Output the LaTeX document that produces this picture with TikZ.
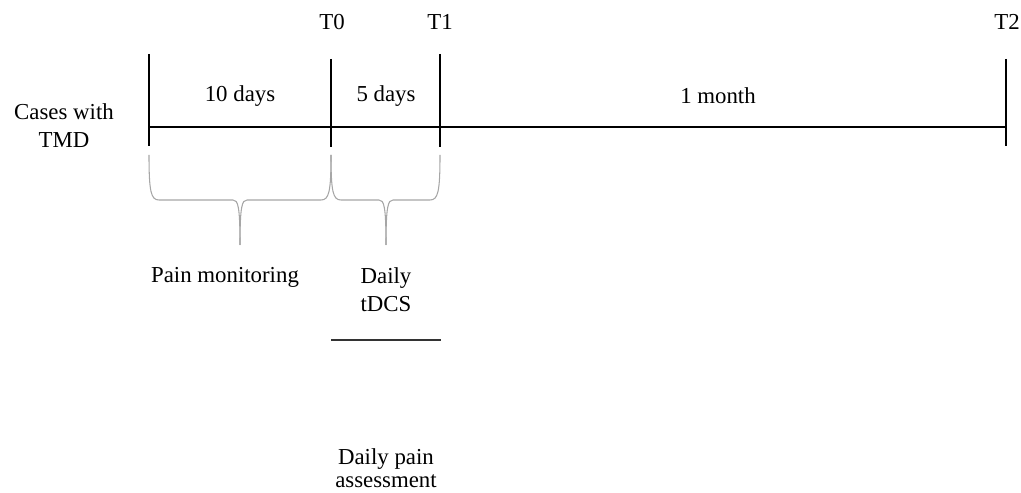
\documentclass[tikz,border=0pt]{standalone}
\usepackage{fontspec}
\setmainfont{Liberation Serif}
\usetikzlibrary{calc, positioning}
\tikzset{
  txt/.style={font=\fontsize{13}{16}\selectfont, align=center, inner sep=0pt},
  axisline/.style={line width=1.6pt, line cap=butt},
  braceline/.style={draw=gray!70, line width=0.6pt}
}
% brace below a period: left x, middle x, right x
\newcommand{\periodbrace}[3]{
  \draw[braceline] (#1,155) .. controls (#1,192) and (#1+2,200) .. (#1+10,200) -- (#2-7,200)
    .. controls (#2-2,200) and (#2,206) .. (#2,245);
  \draw[braceline] (#3,155) .. controls (#3,192) and (#3-2,200) .. (#3-10,200) -- (#2+7,200)
    .. controls (#2+2,200) and (#2,206) .. (#2,245);
}

\begin{document}
\begin{tikzpicture}[x=0.02cm, y=-0.02cm]
\useasboundingbox (0,0) rectangle (1021,493);

% time points on the line
\coordinate (start) at (149,127);
\coordinate (t0) at (331,127);
\coordinate (t1) at (440,127);
\coordinate (t2) at (1006,127);

\draw[axisline] (start) -- (t2);
\draw[axisline] ($(start)+(0,-73)$) -- ($(start)+(0,19)$);
\draw[axisline] ($(t0)+(0,-68)$) -- ($(t0)+(0,20)$);
\draw[axisline] ($(t1)+(0,-73)$) -- ($(t1)+(0,20)$);
\draw[axisline] ($(t2)+(0,-68)$) -- ($(t2)+(0,19)$);

\node[txt] (cases) at (64,126) {Cases with\\TMD};
\node[txt] (t0lab) at (332,22) {T0};
\node[txt] (t1lab) at (440,22) {T1};
\node[txt] (t2lab) at (1007,22) {T2};

\node[txt] (tendays) at (240,96) {10 days};
\node[txt] (fivedays) at (386,96) {5 days};
\node[txt] (month) at (718,96) {1 month};

\periodbrace{149}{240}{331}
\periodbrace{331}{386}{440}

\node[txt] (monitor) at (225,277) {Pain monitoring};
\node[txt] (tdcs) at (386,290) {Daily\\tDCS};
\draw[line width=0.6pt, black!80] (331,340) -- (441,340);
\node[txt] (assess) at (386,468) {Daily pain\\[-3pt]assessment};

\end{tikzpicture}
\end{document}
